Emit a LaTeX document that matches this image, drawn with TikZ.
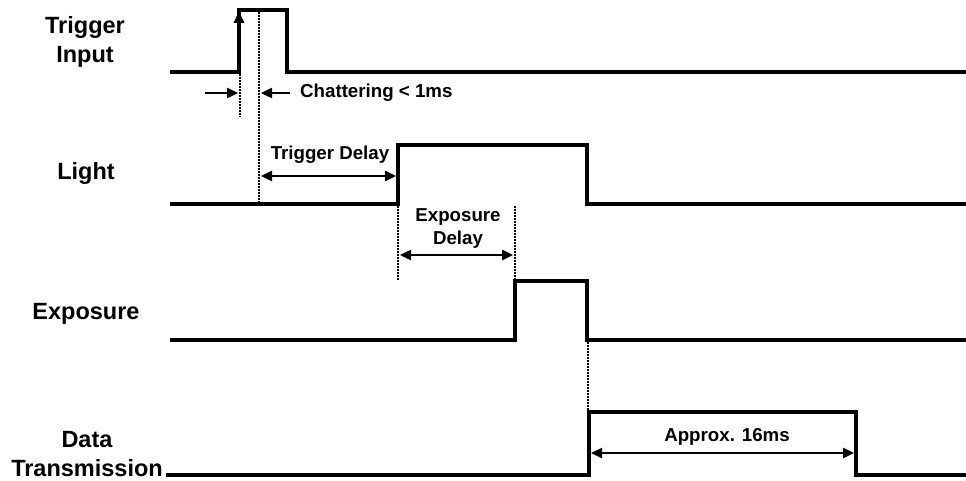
\documentclass[tikz,border=0pt]{standalone}
\usepackage{fontspec}
\setmainfont{Liberation Sans}
\usetikzlibrary{arrows.meta}

\begin{document}
\begin{tikzpicture}[
x=1pt, y=-1pt,
wave/.style={line width=3.3pt, line join=miter},
guide/.style={line width=2.2pt, dash pattern=on 2pt off 1pt},
dim/.style={{Triangle[length=11pt,width=10pt]}-{Triangle[length=11pt,width=10pt]}, line width=2.4pt},
half/.style={-{Triangle[length=11pt,width=10pt]}, line width=2.4pt},
sig/.style={font=\fontsize{23.5}{29}\selectfont\bfseries, align=center, inner sep=0pt},
note/.style={font=\fontsize{18.7}{23}\selectfont\bfseries, align=center, inner sep=0pt}
]
\useasboundingbox (0,0) rectangle (966,481);

\node[sig] (trig) at (85,42) {Trigger\\Input};
\node[sig] (light) at (86,173) {Light};
\node[sig] (expo) at (86,314) {Exposure};
\node[sig] (data) at (87,454) {Data\\Transmission};

\draw[wave] (170,72) -- (239,72) -- (239,10) -- (287,10) -- (287,72) -- (966,72);
\draw[wave, -{Triangle[length=12pt,width=10pt]}] (239,40) -- (239,11);
\draw[wave] (170,204) -- (398,204) -- (398,145) -- (587,145) -- (587,204) -- (966,204);
\draw[wave] (170,340) -- (515,340) -- (515,281) -- (587,281) -- (587,340) -- (966,340);
\draw[wave] (166,475) -- (589,475) -- (589,412) -- (856,412) -- (856,475) -- (966,475);

\draw[guide] (240,74) -- (240,117);
\draw[guide] (259,12) -- (259,204);
\draw[guide] (398,206) -- (398,280);
\draw[guide] (515,206) -- (515,281);
\draw[guide] (588,342) -- (588,412);

\coordinate (chL) at (205,93);
\coordinate (chR) at (290,93);
\draw[half] (chL) -- (238,93);
\draw[half] (chR) -- (261,93);
\node[note, anchor=base west] (chat) at (300,98) {Chattering < 1ms};

\draw[dim] (261,176) -- (396,176);
\node[note, anchor=base] (tdel) at (330,160) {Trigger Delay};

\draw[dim] (400,255) -- (513,255);
\node[note] (edel) at (458,229) {Exposure\\Delay};

\draw[dim] (591,453) -- (854,453);
\node[note, anchor=base] (appr) at (727,441) {Approx. 16ms};
\end{tikzpicture}
\end{document}
